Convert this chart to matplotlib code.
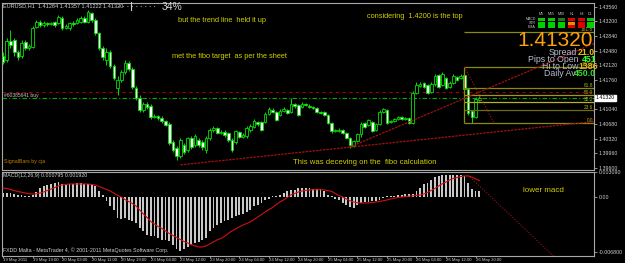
import numpy as np
import matplotlib
matplotlib.use("Agg")
import matplotlib.pyplot as plt
from matplotlib.patches import Rectangle
from matplotlib.lines import Line2D

# EURUSD H1 candles, one entry per bar (19 May 11:00 .. 26 May 21:00)
opens = [
    1.4235, 1.4225, 1.4272, 1.4274, 1.4245, 1.4235, 1.4269, 1.4254, 1.4257, 1.4306,
    1.4318, 1.4311, 1.4316, 1.4313, 1.4318, 1.4316, 1.4328, 1.4303, 1.4303, 1.4316,
    1.4316, 1.4318, 1.4328, 1.4318, 1.4340, 1.4323, 1.4291, 1.4254, 1.4225, 1.4245,
    1.4210, 1.4156, 1.4176, 1.4196, 1.4218, 1.4203, 1.4156, 1.4132, 1.4103, 1.4117,
    1.4112, 1.4085, 1.4088, 1.4083, 1.4076, 1.4068, 1.4024, 1.4009, 1.3990, 1.4017,
    1.4005, 1.4034, 1.4017, 1.4029, 1.4024, 1.4005, 1.4034, 1.4054, 1.4058, 1.4046,
    1.4049, 1.4046, 1.4029, 1.4024, 1.4049, 1.4036, 1.4039, 1.4054, 1.4061, 1.4073,
    1.4073, 1.4073, 1.4093, 1.4103, 1.4098, 1.4090, 1.4100, 1.4103, 1.4098, 1.4117,
    1.4115, 1.4110, 1.4117, 1.4112, 1.4110, 1.4107, 1.4098, 1.4098, 1.4090, 1.4071,
    1.4051, 1.4051, 1.4054, 1.4046, 1.4034, 1.4014, 1.4027, 1.4044, 1.4071, 1.4066,
    1.4073, 1.4054, 1.4068, 1.4098, 1.4103, 1.4073, 1.4076, 1.4080, 1.4085, 1.4080,
    1.4083, 1.4071, 1.4144, 1.4161, 1.4169, 1.4164, 1.4147, 1.4166, 1.4188, 1.4164,
    1.4181, 1.4159, 1.4169, 1.4183, 1.4181, 1.4188, 1.4154, 1.4100, 1.4085, 1.4127,
]
closes = [
    1.4220, 1.4272, 1.4262, 1.4245, 1.4232, 1.4267, 1.4254, 1.4259, 1.4303, 1.4318,
    1.4311, 1.4316, 1.4313, 1.4316, 1.4311, 1.4330, 1.4303, 1.4308, 1.4316, 1.4313,
    1.4323, 1.4328, 1.4318, 1.4343, 1.4323, 1.4291, 1.4254, 1.4232, 1.4245, 1.4210,
    1.4181, 1.4176, 1.4196, 1.4218, 1.4203, 1.4159, 1.4132, 1.4103, 1.4117, 1.4110,
    1.4085, 1.4088, 1.4083, 1.4076, 1.4066, 1.4022, 1.4005, 1.3990, 1.4029, 1.4000,
    1.4034, 1.4012, 1.4039, 1.4017, 1.4012, 1.4034, 1.4054, 1.4058, 1.4046, 1.4049,
    1.4041, 1.4029, 1.4005, 1.4051, 1.4036, 1.4041, 1.4058, 1.4063, 1.4076, 1.4068,
    1.4054, 1.4093, 1.4105, 1.4098, 1.4078, 1.4100, 1.4105, 1.4095, 1.4117, 1.4112,
    1.4090, 1.4117, 1.4115, 1.4110, 1.4107, 1.4098, 1.4095, 1.4090, 1.4071, 1.4051,
    1.4054, 1.4054, 1.4046, 1.4034, 1.4017, 1.4027, 1.4044, 1.4068, 1.4061, 1.4078,
    1.4051, 1.4068, 1.4098, 1.4105, 1.4071, 1.4076, 1.4080, 1.4085, 1.4080, 1.4083,
    1.4071, 1.4144, 1.4164, 1.4166, 1.4159, 1.4144, 1.4166, 1.4186, 1.4159, 1.4191,
    1.4156, 1.4169, 1.4186, 1.4176, 1.4186, 1.4154, 1.4095, 1.4085, 1.4129, 1.4132,
]
highs = [
    1.4245, 1.4279, 1.4299, 1.4279, 1.4250, 1.4274, 1.4274, 1.4264, 1.4308, 1.4323,
    1.4323, 1.4321, 1.4318, 1.4318, 1.4321, 1.4335, 1.4333, 1.4313, 1.4318, 1.4321,
    1.4328, 1.4333, 1.4333, 1.4348, 1.4343, 1.4328, 1.4294, 1.4259, 1.4254, 1.4250,
    1.4215, 1.4186, 1.4200, 1.4225, 1.4223, 1.4208, 1.4161, 1.4139, 1.4122, 1.4122,
    1.4117, 1.4093, 1.4090, 1.4088, 1.4078, 1.4073, 1.4029, 1.4014, 1.4034, 1.4022,
    1.4036, 1.4039, 1.4044, 1.4034, 1.4029, 1.4039, 1.4058, 1.4063, 1.4061, 1.4054,
    1.4054, 1.4049, 1.4034, 1.4054, 1.4051, 1.4046, 1.4063, 1.4068, 1.4080, 1.4076,
    1.4076, 1.4098, 1.4110, 1.4107, 1.4100, 1.4105, 1.4110, 1.4105, 1.4132, 1.4120,
    1.4117, 1.4122, 1.4120, 1.4117, 1.4112, 1.4110, 1.4100, 1.4100, 1.4093, 1.4073,
    1.4056, 1.4058, 1.4056, 1.4049, 1.4036, 1.4029, 1.4046, 1.4073, 1.4073, 1.4080,
    1.4076, 1.4071, 1.4103, 1.4107, 1.4105, 1.4078, 1.4083, 1.4088, 1.4088, 1.4085,
    1.4085, 1.4149, 1.4171, 1.4171, 1.4171, 1.4166, 1.4171, 1.4191, 1.4191, 1.4196,
    1.4183, 1.4174, 1.4191, 1.4186, 1.4191, 1.4208, 1.4156, 1.4103, 1.4134, 1.4137,
]
lows = [
    1.4215, 1.4220, 1.4254, 1.4235, 1.4225, 1.4230, 1.4250, 1.4250, 1.4254, 1.4303,
    1.4306, 1.4306, 1.4308, 1.4311, 1.4306, 1.4313, 1.4299, 1.4301, 1.4299, 1.4308,
    1.4313, 1.4316, 1.4316, 1.4316, 1.4318, 1.4286, 1.4250, 1.4225, 1.4213, 1.4205,
    1.4176, 1.4139, 1.4171, 1.4191, 1.4198, 1.4154, 1.4127, 1.4098, 1.4098, 1.4105,
    1.4080, 1.4083, 1.4078, 1.4071, 1.4063, 1.4017, 1.4000, 1.3980, 1.3985, 1.3995,
    1.4000, 1.4007, 1.4012, 1.4012, 1.4005, 1.3997, 1.4029, 1.4049, 1.4044, 1.4044,
    1.4036, 1.4024, 1.4000, 1.4019, 1.4034, 1.4034, 1.4034, 1.4049, 1.4058, 1.4063,
    1.4051, 1.4071, 1.4090, 1.4095, 1.4076, 1.4088, 1.4098, 1.4093, 1.4095, 1.4107,
    1.4088, 1.4107, 1.4112, 1.4107, 1.4105, 1.4095, 1.4093, 1.4088, 1.4068, 1.4046,
    1.4049, 1.4049, 1.4044, 1.4031, 1.4009, 1.4012, 1.4024, 1.4036, 1.4058, 1.4063,
    1.4049, 1.4051, 1.4066, 1.4095, 1.4068, 1.4071, 1.4073, 1.4078, 1.4078, 1.4078,
    1.4068, 1.4068, 1.4142, 1.4159, 1.4156, 1.4142, 1.4144, 1.4161, 1.4156, 1.4161,
    1.4154, 1.4156, 1.4166, 1.4174, 1.4178, 1.4151, 1.4090, 1.4071, 1.4083, 1.4125,
]

# MACD(12,26,9): main histogram and signal line
macd_main = [
    0.00049, 0.00049, 0.00049, 0.00037, 0.00028, 0.00025, 0.00016, 0.00016, 0.00025, 0.00062,
    0.00111, 0.00132, 0.00148, 0.00161, 0.00173, 0.00182, 0.00161, 0.00148, 0.00161, 0.00161,
    0.00167, 0.00173, 0.00161, 0.00161, 0.00155, 0.00132, 0.00070, 0.00028, -0.00049, -0.00111,
    -0.00157, -0.00260, -0.00272, -0.00260, -0.00281, -0.00297, -0.00321, -0.00383, -0.00420, -0.00466,
    -0.00482, -0.00488, -0.00507, -0.00528, -0.00538, -0.00550, -0.00590, -0.00643, -0.00671, -0.00643,
    -0.00618, -0.00590, -0.00569, -0.00562, -0.00531, -0.00507, -0.00420, -0.00383, -0.00342, -0.00321,
    -0.00300, -0.00281, -0.00260, -0.00239, -0.00219, -0.00210, -0.00185, -0.00157, -0.00115, -0.00095,
    -0.00074, -0.00043, -0.00019, 0.00006, 0.00016, 0.00028, 0.00049, 0.00070, 0.00083, 0.00090,
    0.00111, 0.00111, 0.00111, 0.00105, 0.00099, 0.00093, 0.00099, 0.00070, 0.00028, 0.00006,
    -0.00025, -0.00043, -0.00074, -0.00105, -0.00124, -0.00136, -0.00099, -0.00074, -0.00068, -0.00056,
    -0.00053, -0.00049, -0.00037, -0.00012, 0.00009, 0.00016, 0.00016, 0.00028, 0.00028, 0.00031,
    0.00037, 0.00037, 0.00068, 0.00105, 0.00161, 0.00173, 0.00206, 0.00247, 0.00256, 0.00268,
    0.00268, 0.00268, 0.00268, 0.00268, 0.00268, 0.00256, 0.00173, 0.00103, 0.00074, 0.00074,
]
macd_signal = [
    0.00111, 0.00105, 0.00093, 0.00080, 0.00068, 0.00059, 0.00049, 0.00041, 0.00037, 0.00040,
    0.00049, 0.00062, 0.00080, 0.00099, 0.00117, 0.00136, 0.00148, 0.00155, 0.00161, 0.00161,
    0.00161, 0.00161, 0.00161, 0.00161, 0.00155, 0.00148, 0.00130, 0.00111, 0.00093, 0.00074,
    0.00049, 0.00019, 0.00000, -0.00031, -0.00056, -0.00080, -0.00111, -0.00161, -0.00210, -0.00253,
    -0.00303, -0.00334, -0.00365, -0.00389, -0.00420, -0.00451, -0.00476, -0.00501, -0.00525, -0.00550,
    -0.00569, -0.00590, -0.00606, -0.00618, -0.00618, -0.00606, -0.00581, -0.00556, -0.00531, -0.00513,
    -0.00488, -0.00451, -0.00420, -0.00396, -0.00371, -0.00346, -0.00328, -0.00307, -0.00278, -0.00247,
    -0.00219, -0.00185, -0.00155, -0.00130, -0.00093, -0.00062, -0.00037, -0.00006, 0.00028, 0.00043,
    0.00062, 0.00074, 0.00080, 0.00087, 0.00090, 0.00090, 0.00090, 0.00087, 0.00078, 0.00070,
    0.00043, 0.00019, 0.00000, -0.00025, -0.00047, -0.00062, -0.00072, -0.00074, -0.00074, -0.00074,
    -0.00068, -0.00062, -0.00056, -0.00047, -0.00037, -0.00025, -0.00016, -0.00006, 0.00000, 0.00004,
    0.00010, 0.00015, 0.00019, 0.00025, 0.00037, 0.00056, 0.00080, 0.00105, 0.00136, 0.00164,
    0.00185, 0.00210, 0.00229, 0.00241, 0.00253, 0.00260, 0.00260, 0.00247, 0.00222, 0.00204,
]

time_labels = ["19 May 2011", "19 May 19:00", "20 May 03:00", "20 May 11:00", "20 May 19:00",
               "23 May 04:00", "23 May 12:00", "23 May 20:00", "24 May 04:00", "24 May 12:00",
               "24 May 20:00", "25 May 04:00", "25 May 12:00", "25 May 20:00", "26 May 04:00",
               "26 May 12:00", "26 May 20:00"]
time_ticks = list(range(0, 129, 8))
price_ticks = [1.3960, 1.3996, 1.4032, 1.4068, 1.4104, 1.4176, 1.4212, 1.4248, 1.4284, 1.4320, 1.4356]
bid_price = 1.41320
order_price = 1.4132
stop_price = 1.4147

# hand drawn objects
fibo_bars = [125, 133]
fibo_prices = [1.4208, 1.4071]
fibo_levels = [0.0, 23.6, 38.2, 50.0, 61.8, 100.0, 161.8]
trend1_bars = [48, 161]
trend1_prices = [1.3968, 1.4075]
trend2_bars = [94, 161]
trend2_prices = [1.4012, 1.4269]
macd_trend_bars = [126, 150]
macd_trend_vals = [0.0027, -0.0077]

# signal table (M5 .. D1 x 3 rows)
table_cols = ["M5", "M15", "M30", "H1", "H4", "D1"]
table_rows = ["MACD", "STR", "EMA"]
table_colors = [
    ["#00d000", "#00d000", "#1e7a1e", "#e00000", "#e00000", "#00d000"],
    ["#00d000", "#00d000", "#00d000", "#e09000", "#e00000", "#00d000"],
    ["#00d000", "#00d000", "#00d000", "#e00000", "#e00000", "#00d000"],
]

plt.rcParams['font.family'] = ['Liberation Sans Narrow', 'Liberation Sans', 'DejaVu Sans']

W, H = 625, 263
def box(x0, y0, x1, y1):
    return [x0 / W, 1 - y1 / H, (x1 - x0) / W, (y1 - y0) / H]
def px(x, y):
    return x / W, 1 - y / H

fig = plt.figure(figsize=(6.25, 2.63), dpi=100, facecolor='black')
ax = fig.add_axes(box(2, 3, 594, 170), facecolor='black')
ax2 = fig.add_axes(box(2, 172, 594, 256), facecolor='black')

frame = '#a8a8a8'
for a in (ax, ax2):
    for s in a.spines.values():
        s.set_color(frame)
        s.set_linewidth(0.8)
    a.set_xlim(-0.3, 160.1)

idx = np.arange(len(closes))
o = np.array(opens)
c = np.array(closes)
hi = np.array(highs)
lo = np.array(lows)
up = c >= o
body_lo = np.minimum(o, c)
body_h = np.maximum(np.abs(c - o), 0.00003)

ax.vlines(idx, lo, hi, color='#00e000', lw=0.7, zorder=2)
ax.bar(idx[up], body_h[up], 0.72, bottom=body_lo[up], color='black', edgecolor='#00e000', lw=0.6, zorder=3)
ax.bar(idx[~up], body_h[~up], 0.72, bottom=body_lo[~up], color='white', edgecolor='#00e000', lw=0.6, zorder=3)

ax.set_ylim(1.39555, 1.43647)
ax.axhline(stop_price, color='#a00000', lw=0.8, ls=(0, (3, 3)), zorder=1)
ax.axhline(order_price, color='#00b000', lw=0.8, ls=(0, (4, 2, 1, 2)), zorder=1)

# fibonacci retracement
p100, p0 = fibo_prices
fib_cols = {0.0: '#8a8a10', 23.6: '#6e6e10', 38.2: '#b4b420', 50.0: '#9a9a18',
            61.8: '#8a8a10', 100.0: '#8a8a10', 161.8: '#8a8a10'}
for lev in fibo_levels:
    p = p0 + lev / 100 * (p100 - p0)
    ax.hlines(p, fibo_bars[0], 160.1, color=fib_cols[lev], lw=0.9, zorder=4)
    ax.text(159.8, p, f'{lev:.1f}', ha='right', va='bottom', fontsize=3.4, color='#b0b020', zorder=5)
ax.vlines(fibo_bars[0], p0, p100, color='#8a8a10', lw=0.9, zorder=4)
ax.plot(fibo_bars, fibo_prices, color='#b01010', lw=0.8, ls=(0, (1, 1.5)), zorder=5)

ax.plot(trend1_bars, trend1_prices, color='#a01010', lw=0.9, ls=(0, (2, 0.8)), zorder=5)
ax.plot(trend2_bars, trend2_prices, color='#a01010', lw=0.9, ls=(0, (2, 0.8)), zorder=5)

ax.yaxis.tick_right()
ax.set_yticks(price_ticks)
ax.set_yticklabels([f'{p:.5f}' for p in price_ticks])
ax.tick_params(axis='y', length=2, width=0.6, pad=1.5, colors=frame, labelsize=3.8, labelcolor='#d0d0d0')
ax.set_xticks([])
ax.text(1.003, bid_price, f'{bid_price:.5f}', transform=ax.get_yaxis_transform(), ha='left', va='center',
        fontsize=3.8, color='black', zorder=10, clip_on=False,
        bbox=dict(boxstyle='square,pad=0.15', fc='white', ec='white'))

# MACD panel
ax2.bar(idx, macd_main, 0.5, color='#c8c8c8', zorder=2)
ax2.plot(idx, macd_signal, color='#d01010', lw=0.8, zorder=3)
ax2.plot(macd_trend_bars, macd_trend_vals, color='#a01010', lw=0.8, ls=(0, (1, 1.5)), zorder=3)
ax2.set_ylim(-0.00730, 0.00309)
ax2.yaxis.tick_right()
ax2.set_yticks([0.00309, 0.0, -0.0068])
ax2.set_yticklabels(['0.003090', '0.00', '-0.006800'])
ax2.tick_params(axis='y', length=2, width=0.6, pad=1.5, colors=frame, labelsize=3.8, labelcolor='#d0d0d0')
ax2.set_xticks(time_ticks)
ax2.set_xticklabels(time_labels, ha='left')
ax2.tick_params(axis='x', length=1.2, width=0.6, pad=0.2, colors=frame, labelsize=3.1, labelcolor='#d0d0d0')

# texts on the chart
small = '#d0d0d0'
fig.text(*px(3, 5.5), 'EURUSD,H1  1.41284 1.41357 1.41222 1.41320', fontsize=4, color=small, va='center')
fig.lines.append(Line2D([118 / W, 157 / W], [1 - 6 / H] * 2, transform=fig.transFigure, color='#909090', lw=0.8, ls=(0, (1, 3))))
fig.lines.append(Line2D([131 / W, 131 / W], [1 - 2 / H, 1 - 10 / H], transform=fig.transFigure, color='#d0d0d0', lw=0.8))
fig.text(*px(162, 6.5), '34%', fontsize=7.5, color='#d8d8d8', va='center')

note = '#d0d000'
fig.text(*px(178, 21), 'but the trend line  held it up', fontsize=5.3, color=note, va='center')
fig.text(*px(172, 56), 'met the fibo target  as per the sheet', fontsize=5.3, color=note, va='center')
fig.text(*px(367, 17), 'considering  1.4200 is the top', fontsize=5.3, color=note, va='center')
fig.text(*px(293, 163), 'This was deceving on the  fibo calculation', fontsize=5.6, color=note, va='center')
fig.text(*px(523, 191), 'lower macd', fontsize=5.8, color=note, va='center')

fig.text(*px(4, 95), '#60385641 buy', fontsize=3.6, color='#c0c0c0', va='center')
fig.text(*px(4, 162), 'SignalBars by cja', fontsize=3.8, color='#c08000', va='center')
fig.text(*px(3, 175.5), 'MACD(12,26,9) 0.000795 0.001920', fontsize=3.8, color=small, va='center')
fig.text(*px(3, 250), 'FXDD Malta - MetaTrader 4, \u00a9 2001-2011 MetaQuotes Software Corp.', fontsize=3.8, color=small, va='center')

# signal table
col_x = [538, 548, 558, 568, 578, 587]
row_y = [18, 21.7, 25.3]
for j, name in enumerate(table_cols):
    fig.text(*px(col_x[j] + 3.5, 14), name, fontsize=2.6, color='#c0c0c0', ha='center', va='center')
for i, name in enumerate(table_rows):
    fig.text(*px(536, row_y[i] + 1.5), name, fontsize=2.6, color='#c0c0c0', ha='right', va='center')
    for j in range(len(table_cols)):
        fig.patches.append(Rectangle(px(col_x[j], row_y[i] + 3), 7 / W, 3 / H, transform=fig.transFigure,
                                     fc=table_colors[i][j], ec='none'))

fig.text(*px(593, 40), f'{bid_price:.5f}', fontsize=15, color='#ffa010', ha='right', va='center')
info_lbl = '#b8bcd0'
fig.text(*px(577, 52.5), 'Spread', fontsize=6.3, color=info_lbl, ha='right', va='center')
fig.text(*px(578, 52.5), '21.0', fontsize=6.3, color='#f0c000', ha='left', va='center', weight='bold')
fig.text(*px(578, 59.5), 'Pips to Open', fontsize=6.3, color=info_lbl, ha='right', va='center')
fig.text(*px(582, 59.5), '451', fontsize=6.3, color='#30ff30', ha='left', va='center', weight='bold')
fig.text(*px(578, 66.5), 'Hi to Low', fontsize=6.3, color=info_lbl, ha='right', va='center')
fig.text(*px(578, 66.5), '1386', fontsize=6.3, color='#e0b020', ha='left', va='center', weight='bold')
fig.text(*px(576, 73.5), 'Daily Av', fontsize=6.3, color=info_lbl, ha='right', va='center')
fig.text(*px(574, 73.5), '450.0', fontsize=6.3, color='#30e030', ha='left', va='center', weight='bold')

fig.savefig('out.png', dpi=100, facecolor='black')
